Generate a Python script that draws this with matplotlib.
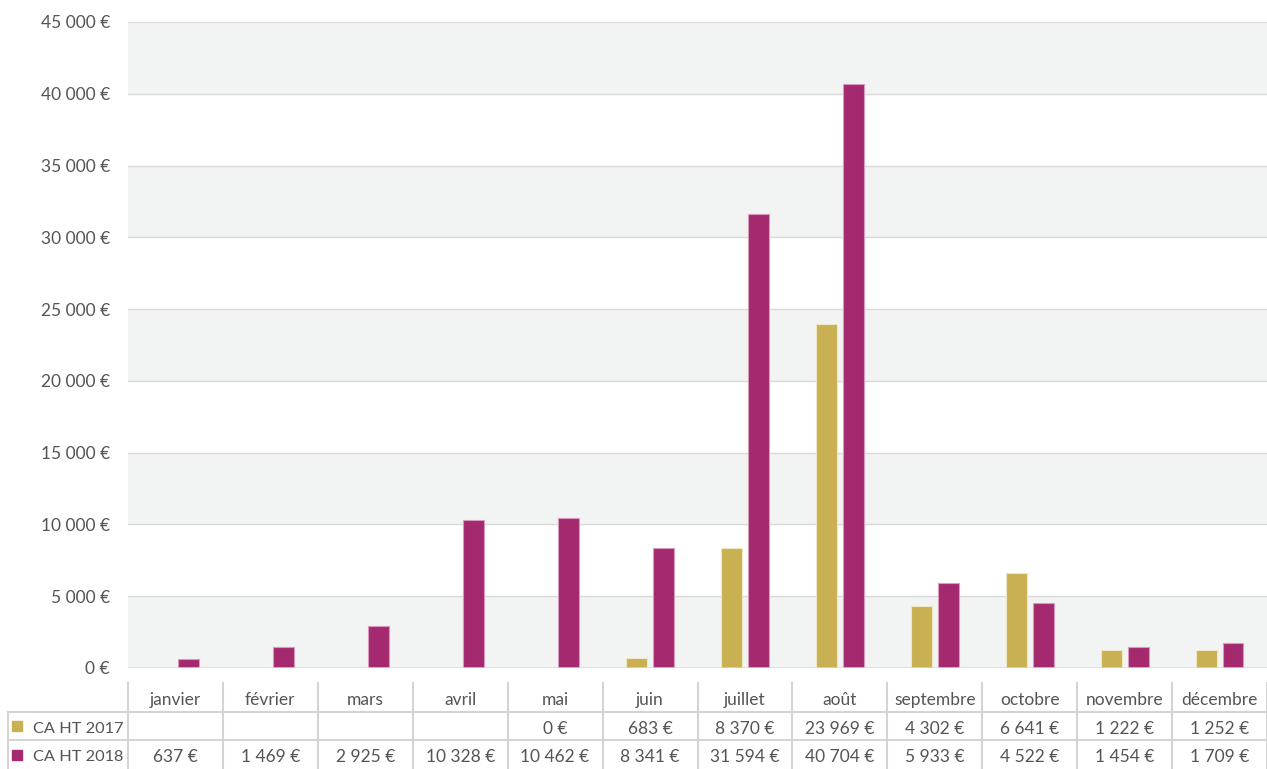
import numpy as np
import matplotlib
matplotlib.use("Agg")
import matplotlib.pyplot as plt
from matplotlib.ticker import FuncFormatter

# data
months = ["janvier", "février", "mars", "avril", "mai", "juin", "juillet",
          "août", "septembre", "octobre", "novembre", "décembre"]
ca_2017 = [None, None, None, None, 0, 683, 8370, 23969, 4302, 6641, 1222, 1252]
ca_2018 = [637, 1469, 2925, 10328, 10462, 8341, 31594, 40704, 5933, 4522, 1454, 1709]
series_names = ["CA HT 2017", "CA HT 2018"]
colors = ["#c9b153", "#a4296e"]
edge_colors = ["#efe6c4", "#d99bbd"]
y_ticks = list(range(0, 45001, 5000))

plt.rcParams['font.family'] = ['Lato', 'DejaVu Sans']
txt_col = "#555555"
grid_col = "#d9d9d9"
fs = 12.5

W, H = 1267, 769
fig = plt.figure(figsize=(W / 100, H / 100), dpi=100)

def fmt(v):
    return "{:,}".format(int(v)).replace(",", " ") + " €"

# main plot area in pixels
px_left, px_right, px_top, px_bottom = 128, 1267, 22, 668
ax = fig.add_axes([px_left / W, 1 - px_bottom / H, (px_right - px_left) / W, (px_bottom - px_top) / H])

x = np.arange(len(months))
bw = 0.22
off = 0.142
v17 = np.array([np.nan if v is None else v for v in ca_2017], dtype=float)
v18 = np.array(ca_2018, dtype=float)
ax.bar(x - off, v17, bw, color=colors[0], edgecolor=edge_colors[0], linewidth=0.8, zorder=3)
ax.bar(x + off, v18, bw, color=colors[1], edgecolor=edge_colors[1], linewidth=0.8, zorder=3)

ax.set_xlim(-0.5, len(months) - 0.5)
ax.set_ylim(0, 45000)

# alternating bands
for i, lo in enumerate(y_ticks[:-1]):
    if i % 2 == 0:
        ax.axhspan(lo, lo + 5000, color="#f2f4f3", zorder=0, lw=0)
for t in y_ticks[1:]:
    ax.axhline(t, color=grid_col, lw=1.0, zorder=1)
ax.axhline(0, color=grid_col, lw=1.8, zorder=4)

ax.set_yticks(y_ticks)
ax.yaxis.set_major_formatter(FuncFormatter(lambda v, p: fmt(v)))
ax.tick_params(axis="y", length=0, pad=13, labelsize=fs, labelcolor=txt_col)
ax.set_xticks([])
for s in ax.spines.values():
    s.set_visible(False)

# data table below, in an axes sharing the month scale
unit = (px_right - px_left) / len(months)
tax = fig.add_axes([0, 0, 1, 1 - 683 / H])
x0 = -0.5 - px_left / unit
tax.set_xlim(x0, x0 + W / unit)
tax.set_ylim(3, 0)
tax.axis("off")

tcol = "#d4d4d4"
lab_left = x0 + 8 / unit
# vertical lines
for b in np.arange(len(months) + 1) - 0.5:
    tax.plot([b, b], [0, 3], color=tcol, lw=1.5, clip_on=False)
tax.plot([lab_left, lab_left], [1, 3], color=tcol, lw=1.5, clip_on=False)
# horizontal lines
for r in [1, 2]:
    tax.plot([lab_left, len(months) - 0.5], [r, r], color=tcol, lw=1.5, clip_on=False)

dy = 0.09
for i, m in enumerate(months):
    tax.text(i, 0.5 + dy, m, ha="center", va="center", fontsize=fs, color=txt_col)
    if ca_2017[i] is not None:
        tax.text(i, 1.5 + dy, fmt(ca_2017[i]), ha="center", va="center", fontsize=fs, color=txt_col)
    tax.text(i, 2.5 + dy, fmt(ca_2018[i]), ha="center", va="center", fontsize=fs, color=txt_col)

for r, (name, c) in enumerate(zip(series_names, colors)):
    sq = 10 / unit
    tax.add_patch(plt.Rectangle((x0 + 12 / unit, 1.5 + r - 0.17), sq, 0.34, color=c, clip_on=False))
    tax.text(x0 + 33 / unit, 1.5 + r + dy, name, ha="left", va="center", fontsize=11.8, color=txt_col)

fig.savefig("out.png", dpi=100)
